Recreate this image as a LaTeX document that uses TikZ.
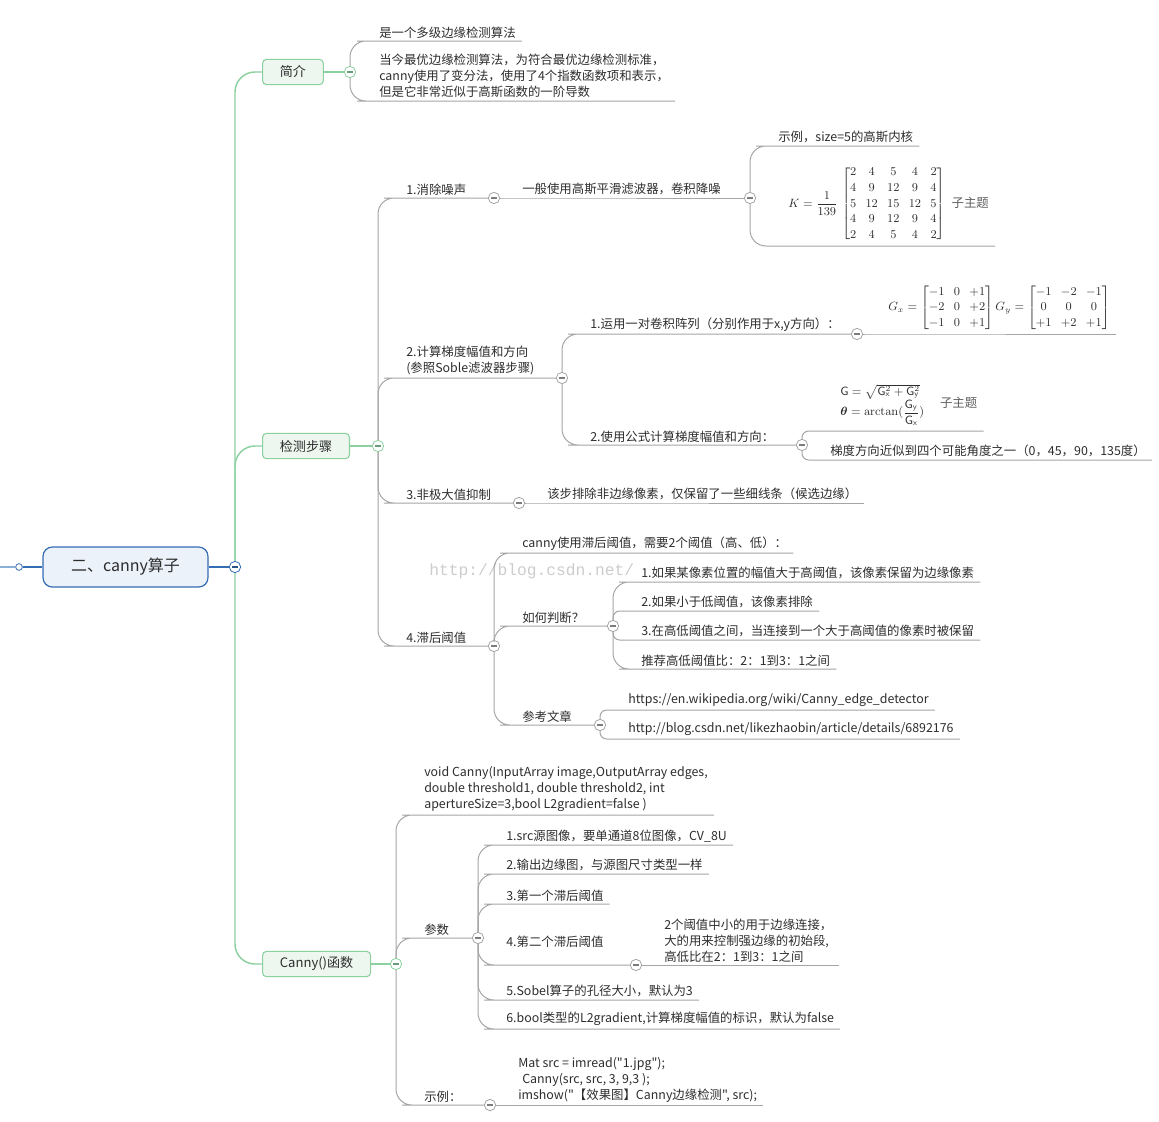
\documentclass[tikz,border=0pt]{standalone}
\usepackage{amsmath}
\usepackage{amssymb}
\usepackage[no-math]{fontspec}
\setmainfont{Noto Sans CJK SC}
\newfontfamily\codefont{Noto Sans CJK SC}[Ligatures=TeXOff]
\newfontfamily\markfont{Liberation Mono}
\usetikzlibrary{positioning}
\definecolor{rootblue}{RGB}{52,108,180}
\definecolor{rootfill}{RGB}{236,242,250}
\definecolor{rootline}{RGB}{140,175,215}
\definecolor{branchgreen}{RGB}{140,208,160}
\definecolor{branchfill}{RGB}{237,247,240}
\definecolor{linkgray}{RGB}{165,165,165}
\definecolor{inkgray}{RGB}{45,45,45}
\definecolor{notegray}{RGB}{95,95,95}

\begin{document}
\begin{tikzpicture}[x=0.75pt, y=-0.75pt,
    root/.style={rectangle, rounded corners=7pt, draw=rootblue, fill=rootfill, line width=0.9pt, minimum width=123.75pt, minimum height=30pt, font=\fontsize{12}{14}\selectfont, text=inkgray},
    main/.style={rectangle, rounded corners=3pt, draw=branchgreen, fill=branchfill, line width=0.8pt, minimum height=19pt, inner xsep=13pt, anchor=west, font=\fontsize{9.8}{12}\selectfont, text=inkgray},
    topic/.style={anchor=south west, inner xsep=4.5pt, inner ysep=2pt, align=left, font=\fontsize{9.3}{12}\selectfont, text=inkgray},
    formula/.style={topic, font=\fontsize{9}{11.7}\selectfont},
    fold/.style={circle, draw=#1, fill=white, minimum size=8.5pt, inner sep=0pt, line width=0.6pt,
        path picture={\draw[#1!75!black, line width=1pt] ([xshift=-2.2pt]path picture bounding box.center) -- ([xshift=2.2pt]path picture bounding box.center);}},
    link/.style={linkgray, line width=0.75pt, rounded corners=12pt},
    spine/.style={branchgreen, line width=1.1pt, rounded corners=15pt}
]
    \useasboundingbox (0,0) rectangle (1159,1121);
    \setlength{\arraycolsep}{3.5pt}

    % Watermark
    \node[font=\markfont\fontsize{12.2}{14}\selectfont, text=black!20, anchor=west, inner sep=0pt] (mark) at (429,571) {http://blog.csdn.net/};

    % Root
    \coordinate (feed) at (0,567);
    \node[circle, draw=rootblue, fill=white, minimum size=5pt, inner sep=0pt, line width=0.6pt] (hook) at (19,567) {};
    \node[root] (root) at (125.5,567) {二、canny算子};
    \node[fold=rootblue] (c0) at (235,567) {};

    % Main topics
    \node[main] (intro) at (262,72) {简介};
    \node[fold=branchgreen] (cintro) at (350,72) {};
    \node[main] (steps) at (262,446) {检测步骤};
    \node[fold=branchgreen] (csteps) at (378,446) {};
    \node[main] (func) at (262,964) {Canny()函数};
    \node[fold=branchgreen] (cfunc) at (396,964) {};

    % Intro
    \node[topic] (i1) at (373,41) {是一个多级边缘检测算法};
    \node[topic] (i2) at (373,101) {当今最优边缘检测算法，为符合最优边缘检测标准，\\canny使用了变分法，使用了4个指数函数项和表示，\\但是它非常近似于高斯函数的一阶导数};

    % Step 1
    \node[topic] (s1) at (400,198) {1.消除噪声};
    \node[fold=linkgray] (cs1) at (494,198) {};
    \node[topic] (s1a) at (516,198) {一般使用高斯平滑滤波器，卷积降噪};
    \node[fold=linkgray] (cs1a) at (750,198) {};
    \node[topic] (s1a1) at (772,146) {示例，size=5的高斯内核};
    \node[formula] (s1a2) at (782,246) {$K=\dfrac{1}{139}\,\begin{bmatrix}2&4&5&4&2\\4&9&12&9&4\\5&12&15&12&5\\4&9&12&9&4\\2&4&5&4&2\end{bmatrix}$\hspace{5pt}{\fontsize{9.3}{12}\selectfont\color{notegray}子主题}};

    % Step 2
    \node[topic] (s2) at (400,378) {2.计算梯度幅值和方向\\(参照Soble滤波器步骤)};
    \node[fold=linkgray] (cs2) at (562,378) {};
    \node[topic] (s2a) at (584,334) {1.运用一对卷积阵列（分别作用于x,y方向）：};
    \node[fold=linkgray] (cs2a) at (857,334) {};
    \node[formula] (s2a1) at (882,334) {$G_x=\begin{bmatrix}-1&0&+1\\-2&0&+2\\-1&0&+1\end{bmatrix}G_y=\begin{bmatrix}-1&-2&-1\\0&0&0\\+1&+2&+1\end{bmatrix}$};
    \node[topic] (s2b) at (584,445) {2.使用公式计算梯度幅值和方向：};
    \node[fold=linkgray] (cs2b) at (802,445) {};
    \node[formula, font=\fontsize{9}{11}\selectfont, inner ysep=4pt] (s2b1) at (834,431) {$\begin{array}{@{}l@{}}\mathsf{G}=\sqrt{\mathsf{G}_{\mathsf{x}}^{2}+\mathsf{G}_{\mathsf{y}}^{2}}\\ \boldsymbol{\theta}=\arctan(\dfrac{\mathsf{G}_{\mathsf{y}}}{\mathsf{G}_{\mathsf{x}}})\end{array}$\hspace{12pt}{\fontsize{9.3}{12}\selectfont\color{notegray}子主题}};
    \node[topic] (s2b2) at (824,460) {梯度方向近似到四个可能角度之一（0，45，90，135度）};

    % Step 3
    \node[topic] (s3) at (400,503) {3.非极大值抑制};
    \node[fold=linkgray] (cs3) at (519,503) {};
    \node[topic] (s3a) at (541,503) {该步排除非边缘像素，仅保留了一些细线条（候选边缘）};

    % Step 4
    \node[topic] (s4) at (400,646) {4.滞后阈值};
    \node[fold=linkgray] (cs4) at (494,646) {};
    \node[topic] (s4a) at (516,553) {canny使用滞后阈值，需要2个阈值（高、低）：};
    \node[topic] (s4b) at (516,626) {如何判断？};
    \node[fold=linkgray] (cs4b) at (613,626) {};
    \node[topic] (s4b1) at (635,582) {1.如果某像素位置的幅值大于高阈值，该像素保留为边缘像素};
    \node[topic] (s4b2) at (635,611) {2.如果小于低阈值，该像素排除};
    \node[topic] (s4b3) at (635,640) {3.在高低阈值之间，当连接到一个大于高阈值的像素时被保留};
    \node[topic] (s4b4) at (635,669) {推荐高低阈值比：2：1到3：1之间};
    \node[topic] (s4c) at (516,725) {参考文章};
    \node[fold=linkgray] (cs4c) at (600,725) {};
    \node[topic] (s4c1) at (622,710) {https://en.wikipedia.org/wiki/Canny\_edge\_detector};
    \node[topic] (s4c2) at (622,739) {http://blog.csdn.net/likezhaobin/article/details/6892176};

    % Canny() function
    \node[topic] (f1) at (418,815) {void Canny(InputArray image,OutputArray edges,\\double threshold1, double threshold2, int\\apertureSize=3,bool L2gradient=false )};
    \node[topic] (f2) at (418,938) {参数};
    \node[fold=linkgray] (cf2) at (478,938) {};
    \node[topic] (f2a) at (500,845) {1.src源图像，要单通道8位图像，CV\_8U};
    \node[topic] (f2b) at (500,874) {2.输出边缘图，与源图尺寸类型一样};
    \node[topic] (f2c) at (500,904) {3.第一个滞后阈值};
    \node[topic, inner ysep=13pt] (f2d) at (500,965) {4.第二个滞后阈值};
    \node[fold=linkgray] (cf2d) at (636,965) {};
    \node[topic] (f2d1) at (658,965) {2个阈值中小的用于边缘连接，\\大的用来控制强边缘的初始段,\\高低比在2：1到3：1之间};
    \node[topic] (f2e) at (500,1000) {5.Sobel算子的孔径大小，默认为3};
    \node[topic] (f2f) at (500,1029) {6.bool类型的L2gradient,计算梯度幅值的标识，默认为false};
    \node[topic] (f3) at (418,1105) {示例：};
    \node[fold=linkgray] (cf3) at (490,1105) {};
    \node[topic, font=\codefont\fontsize{9.3}{12}\selectfont] (f3a) at (512,1105) {Mat src = imread("1.jpg");\\\hspace*{3pt}Canny(src, src, 3, 9,3 );\\imshow("【效果图】Canny边缘检测", src);};

    % Root links
    \draw[rootline, line width=1.5pt] (feed) -- (hook);
    \draw[rootblue, line width=1.1pt] (hook) -- (root);
    \draw[rootblue, line width=1.1pt] (root) -- (c0);

    % Green spine
    \draw[spine] (c0) |- (intro.west);
    \draw[spine] (c0) |- (steps.west);
    \draw[spine] (c0) |- (func.west);
    \draw[spine] (intro) -- (cintro);
    \draw[spine] (steps) -- (csteps);
    \draw[spine] (func) -- (cfunc);

    % Intro links
    \draw[link] (cintro) |- (i1.south west) -- (i1.south east);
    \draw[link] (cintro) |- (i2.south west) -- (i2.south east);

    % Step links
    \draw[link] (csteps) |- (s1.south west) -- (cs1);
    \draw[link] (cs1) -- (s1a.south west) -- (cs1a);
    \draw[link] (cs1a) |- (s1a1.south west) -- (s1a1.south east);
    \draw[link] (cs1a) |- (s1a2.south west) -- (s1a2.south east);
    \draw[link] (csteps) |- (s2.south west) -- (cs2);
    \draw[link] (cs2) |- (s2a.south west) -- (cs2a);
    \draw[link] (cs2a) -- (s2a1.south west) -- (s2a1.south east);
    \draw[link] (cs2) |- (s2b.south west) -- (cs2b);
    \draw[link, rounded corners=5pt] (cs2b) |- (s2b1.south west) -- (s2b1.south east);
    \draw[link, rounded corners=5pt] (cs2b) |- (s2b2.south west) -- (s2b2.south east);
    \draw[link] (csteps) |- (s3.south west) -- (cs3);
    \draw[link] (cs3) -- (s3a.south west) -- (s3a.south east);
    \draw[link] (csteps) |- (s4.south west) -- (cs4);
    \draw[link] (cs4) |- (s4a.south west) -- (s4a.south east);
    \draw[link] (cs4) |- (s4b.south west) -- (cs4b);
    \draw[link] (cs4) |- (s4c.south west) -- (cs4c);
    \draw[link] (cs4b) |- (s4b1.south west) -- (s4b1.south east);
    \draw[link, rounded corners=5pt] (cs4b) |- (s4b2.south west) -- (s4b2.south east);
    \draw[link, rounded corners=5pt] (cs4b) |- (s4b3.south west) -- (s4b3.south east);
    \draw[link] (cs4b) |- (s4b4.south west) -- (s4b4.south east);
    \draw[link, rounded corners=5pt] (cs4c) |- (s4c1.south west) -- (s4c1.south east);
    \draw[link, rounded corners=5pt] (cs4c) |- (s4c2.south west) -- (s4c2.south east);

    % Function links
    \draw[link] (cfunc) |- (f1.south west) -- (f1.south east);
    \draw[link] (cfunc) |- (f2.south west) -- (cf2);
    \draw[link] (cfunc) |- (f3.south west) -- (cf3);
    \draw[link] (cf2) |- (f2a.south west) -- (f2a.south east);
    \draw[link] (cf2) |- (f2b.south west) -- (f2b.south east);
    \draw[link] (cf2) |- (f2c.south west) -- (f2c.south east);
    \draw[link] (cf2) |- (f2d.south west) -- (cf2d);
    \draw[link] (cf2d) -- (f2d1.south west) -- (f2d1.south east);
    \draw[link] (cf2) |- (f2e.south west) -- (f2e.south east);
    \draw[link] (cf2) |- (f2f.south west) -- (f2f.south east);
    \draw[link] (cf3) -- (f3a.south west) -- (f3a.south east);
\end{tikzpicture}
\end{document}
